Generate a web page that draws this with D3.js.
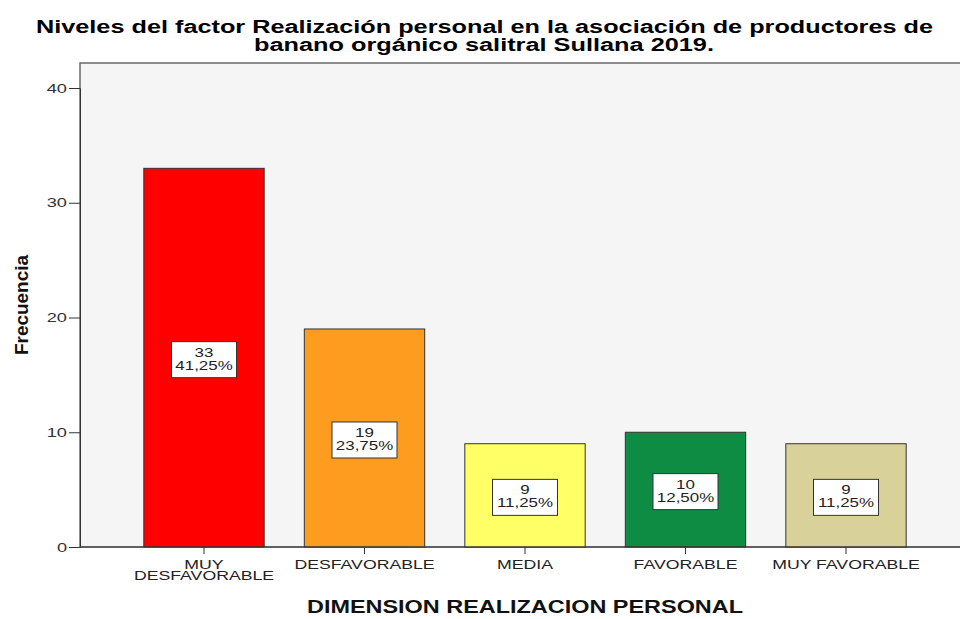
<!DOCTYPE html>
<html>
<head>
<meta charset="utf-8">
<script src="https://d3js.org/d3.v7.min.js"></script>
<style>
  body { margin: 0; background: #fff; }
  text { font-family: "Liberation Sans", Arial, sans-serif; }
</style>
</head>
<body>
<script>
const categories = ["MUY DESFAVORABLE", "DESFAVORABLE", "MEDIA", "FAVORABLE", "MUY FAVORABLE"];
const counts = [33, 19, 9, 10, 9];
const percents = ["41,25%", "23,75%", "11,25%", "12,50%", "11,25%"];
const colors = ["#ff0000", "#fe9c20", "#ffff66", "#0f8c44", "#d8d29a"];
const yTicks = [0, 10, 20, 30, 40];

const width = 960, height = 619;
const svg = d3.select("body").append("svg").attr("width", width).attr("height", height);

// widen text horizontally (the original uses a broader face)
function widen(sel, k) {
  sel.each(function() {
    const w = this.getComputedTextLength();
    d3.select(this).attr("textLength", w * k).attr("lengthAdjust", "spacingAndGlyphs");
  });
}

// title
svg.append("text").attr("x", 484.5).attr("y", 33).attr("text-anchor", "middle")
   .attr("font-size", 18).attr("font-weight", "bold").attr("fill", "#000")
   .attr("textLength", 897).attr("lengthAdjust", "spacingAndGlyphs")
   .text("Niveles del factor Realización personal en la asociación de productores de");
svg.append("text").attr("x", 484).attr("y", 51).attr("text-anchor", "middle")
   .attr("font-size", 18).attr("font-weight", "bold").attr("fill", "#000")
   .attr("textLength", 460).attr("lengthAdjust", "spacingAndGlyphs")
   .text("banano orgánico salitral Sullana 2019.");

const plot = { left: 80, top: 63, right: 962, bottom: 547 };

const y = d3.scaleLinear().domain([0, 40]).range([547, 88]);
const x = d3.scaleBand().domain(categories).range([123.75, 926.25])
            .paddingInner(0.25).paddingOuter(0.125);

// plot background
svg.append("rect").attr("x", plot.left).attr("y", plot.top)
   .attr("width", plot.right - plot.left).attr("height", plot.bottom - plot.top)
   .attr("fill", "#f5f5f5").attr("stroke", "#6a6a6a").attr("stroke-width", 1.5);

// bars
svg.selectAll("rect.bar").data(categories).join("rect").attr("class", "bar")
   .attr("x", d => x(d)).attr("width", x.bandwidth())
   .attr("y", (d, i) => y(counts[i])).attr("height", (d, i) => y(0) - y(counts[i]))
   .attr("fill", (d, i) => colors[i]).attr("stroke", "#333").attr("stroke-width", 1);

// value labels
const lab = svg.selectAll("g.lab").data(categories).join("g").attr("class", "lab")
   .attr("transform", (d, i) => `translate(${x(d) + x.bandwidth() / 2},${(y(counts[i]) + y(0)) / 2 + 2})`);
lab.append("rect").attr("x", -32.5).attr("y", -18).attr("width", 65).attr("height", 36)
   .attr("fill", "#fff").attr("stroke", "#333").attr("stroke-width", 1);
lab.append("text").attr("class", "v").attr("text-anchor", "middle").attr("y", -3).attr("font-size", 13)
   .attr("fill", "#222").text((d, i) => counts[i]);
lab.append("text").attr("class", "v").attr("text-anchor", "middle").attr("y", 10).attr("font-size", 13)
   .attr("fill", "#222").text((d, i) => percents[i]);
widen(lab.selectAll("text"), 1.3);

// y axis
const yAxis = svg.append("g").attr("transform", `translate(${plot.left},0)`)
   .call(d3.axisLeft(y).tickValues(yTicks).tickSize(11).tickPadding(2));
yAxis.select(".domain").attr("stroke", "#333");
yAxis.selectAll(".tick line").attr("stroke", "#333");
yAxis.selectAll(".tick text").attr("font-size", 13).attr("fill", "#333")
   .attr("font-family", "Liberation Sans, Arial, sans-serif");
widen(yAxis.selectAll(".tick text"), 1.4);

// x axis
const xAxis = svg.append("g").attr("transform", `translate(0,${plot.bottom})`)
   .call(d3.axisBottom(x).tickSize(7).tickPadding(6).tickSizeOuter(0));
xAxis.select(".domain").attr("d", `M${plot.left},0H${width}`).attr("stroke", "#333");
xAxis.selectAll(".tick line").attr("stroke", "#333");
xAxis.selectAll(".tick text").attr("font-size", 13).attr("fill", "#222")
   .attr("font-family", "Liberation Sans, Arial, sans-serif")
   .each(function(d) {
     const t = d3.select(this);
     if (d === "MUY DESFAVORABLE") {
       t.text(null);
       t.append("tspan").attr("x", 0).attr("dy", "0.71em").text("MUY");
       t.append("tspan").attr("x", 0).attr("dy", "0.85em").text("DESFAVORABLE");
     }
   });
widen(xAxis.selectAll(".tick text").filter(d => d !== "MUY DESFAVORABLE"), 1.36);
xAxis.selectAll(".tick text tspan").each(function() {
  const w = this.getComputedTextLength();
  d3.select(this).attr("textLength", w * 1.36).attr("lengthAdjust", "spacingAndGlyphs");
});

// axis titles
svg.append("text").attr("x", 525).attr("y", 613).attr("text-anchor", "middle")
   .attr("font-size", 18).attr("font-weight", "bold").attr("fill", "#111")
   .attr("textLength", 436).attr("lengthAdjust", "spacingAndGlyphs")
   .text("DIMENSION REALIZACION PERSONAL");
svg.append("text").attr("transform", "translate(28,305) rotate(-90)")
   .attr("text-anchor", "middle").attr("font-size", 18).attr("font-weight", "bold")
   .attr("fill", "#111").attr("textLength", 100).attr("lengthAdjust", "spacingAndGlyphs")
   .text("Frecuencia");
</script>
</body>
</html>
